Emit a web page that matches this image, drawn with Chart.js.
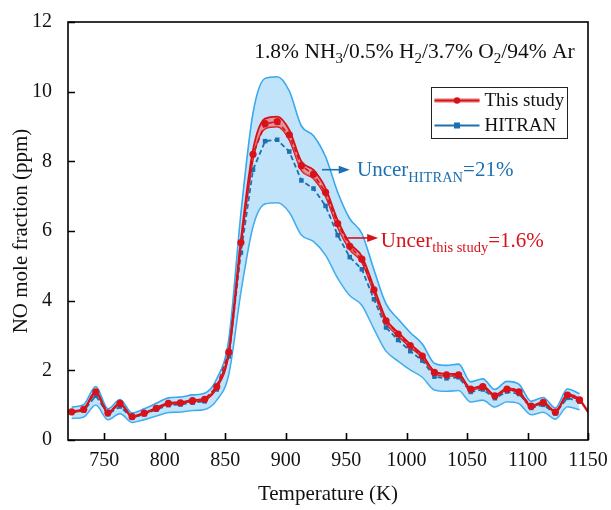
<!DOCTYPE html>
<html>
<head>
<meta charset="utf-8">
<title>NO mole fraction</title>
<script src="https://cdn.jsdelivr.net/npm/chart.js@4.4.1/dist/chart.umd.min.js"></script>
<style>
  html, body { margin: 0; background: #fff; }
  canvas { display: block; }
</style>
</head>
<body>
<canvas id="chart" width="611" height="510"></canvas>
<script>
// measured temperatures (K)
const temps = [723, 733, 743, 753, 763, 773, 783, 793, 803, 813, 823, 833, 843, 853, 863,
  873, 883, 893, 903, 913, 923, 933, 943, 953, 963, 973, 983, 993, 1003, 1013, 1023, 1033,
  1043, 1053, 1063, 1073, 1083, 1093, 1103, 1113, 1123, 1133, 1143];
// NO mole fraction (ppm), this study
const study = [0.81, 0.88, 1.38, 0.78, 1.05, 0.67, 0.77, 0.91, 1.05, 1.07, 1.13, 1.17, 1.53,
  2.52, 5.67, 8.20, 9.08, 9.14, 8.76, 7.87, 7.63, 7.11, 6.21, 5.56, 5.19, 4.31, 3.42, 3.04,
  2.71, 2.41, 1.94, 1.87, 1.87, 1.46, 1.53, 1.27, 1.46, 1.38, 0.97, 1.08, 0.80, 1.29, 1.15];
// NO mole fraction (ppm), HITRAN line data
const hitran = [0.78, 0.84, 1.27, 0.74, 0.96, 0.64, 0.74, 0.87, 1.00, 1.02, 1.07, 1.11, 1.45,
  2.40, 5.38, 7.76, 8.58, 8.62, 8.28, 7.45, 7.22, 6.72, 5.88, 5.25, 4.90, 4.04, 3.23, 2.87,
  2.55, 2.28, 1.82, 1.77, 1.80, 1.38, 1.45, 1.20, 1.39, 1.32, 0.92, 1.01, 0.76, 1.21, 1.10];
// end of the fitted curve for this study at the axis limit
const studyTailT = [1150];
const studyTail = [0.81];
// relative uncertainties
const uStudy = 0.016;
const uHitran = 0.21;

const tempTicks = [750, 800, 850, 900, 950, 1000, 1050, 1100, 1150];
const noTicks = [0, 2, 4, 6, 8, 10, 12];

const FONT = "'Liberation Serif', 'Times New Roman', serif";
const RED = '#d7121a';
const BLUE = '#1c6fb1';
const SKY = '#35a8ef';

const xy = (ts, vs) => ts.map((t, i) => ({ x: t, y: vs[i] }));
const scaled = (vs, f) => vs.map((v) => v * f);

const fitT = temps.concat(studyTailT);
const fitV = study.concat(studyTail);

// text with subscripts: parts = [[text, isSub], ...]
function richText(ctx, parts, x, y, size, subSize, color) {
  ctx.fillStyle = color;
  ctx.textBaseline = 'alphabetic';
  ctx.textAlign = 'left';
  for (const [txt, sub] of parts) {
    ctx.font = `${sub ? subSize : size}px ${FONT}`;
    ctx.fillText(txt, x, sub ? y + size * 0.25 : y);
    x += ctx.measureText(txt).width;
  }
}

function arrow(ctx, x0, x1, y, color) {
  ctx.strokeStyle = color;
  ctx.fillStyle = color;
  ctx.lineWidth = 1.6;
  ctx.beginPath();
  ctx.moveTo(x0, y);
  ctx.lineTo(x1 - 8, y);
  ctx.stroke();
  ctx.beginPath();
  ctx.moveTo(x1, y);
  ctx.lineTo(x1 - 11, y - 4);
  ctx.lineTo(x1 - 11, y + 4);
  ctx.closePath();
  ctx.fill();
}

const decor = {
  id: 'decor',
  afterDraw(chart) {
    const { ctx, chartArea: a, scales: { x, y } } = chart;
    ctx.save();

    // frame with inward ticks
    ctx.strokeStyle = '#000';
    ctx.lineWidth = 1.6;
    ctx.strokeRect(a.left, a.top, a.right - a.left, a.bottom - a.top);
    ctx.beginPath();
    tempTicks.forEach((t) => {
      const px = Math.round(x.getPixelForValue(t)) + 0.5;
      ctx.moveTo(px, a.bottom);
      ctx.lineTo(px, a.bottom - 7);
    });
    noTicks.forEach((v) => {
      const py = Math.round(y.getPixelForValue(v)) + 0.5;
      ctx.moveTo(a.left, py);
      ctx.lineTo(a.left + 7, py);
    });
    ctx.stroke();

    // mixture
    richText(ctx, [['1.8% NH', 0], ['3', 1], ['/0.5% H', 0], ['2', 1], ['/3.7% O', 0], ['2', 1], ['/94% Ar', 0]],
      x.getPixelForValue(874), y.getPixelForValue(10.97), 21.5, 15, '#111');

    // uncertainty labels
    let ay = y.getPixelForValue(7.76);
    arrow(ctx, x.getPixelForValue(930), x.getPixelForValue(953), ay, BLUE);
    richText(ctx, [['Uncer', 0], ['HITRAN', 1], ['=21%', 0]],
      x.getPixelForValue(959), y.getPixelForValue(7.57), 21, 14.5, BLUE);
    ay = y.getPixelForValue(5.80);
    arrow(ctx, x.getPixelForValue(951), x.getPixelForValue(976.5), ay, RED);
    richText(ctx, [['Uncer', 0], ['this study', 1], ['=1.6%', 0]],
      x.getPixelForValue(978.7), y.getPixelForValue(5.55), 21, 14.5, RED);

    // legend
    const lx = 431.5, ly = 87.5, lw = 136, lh = 51;
    ctx.fillStyle = '#fff';
    ctx.fillRect(lx, ly, lw, lh);
    ctx.strokeStyle = '#222';
    ctx.lineWidth = 1;
    ctx.strokeRect(lx, ly, lw, lh);
    const rows = [
      { label: 'This study', color: RED, halo: 'rgba(235,110,110,0.7)', shape: 'circle', yy: ly + 13 },
      { label: 'HITRAN', color: BLUE, halo: null, shape: 'rect', yy: ly + 38 }
    ];
    rows.forEach((r) => {
      if (r.halo) {
        ctx.strokeStyle = r.halo;
        ctx.lineWidth = 4.5;
        ctx.beginPath(); ctx.moveTo(lx + 3, r.yy); ctx.lineTo(lx + 48, r.yy); ctx.stroke();
      }
      ctx.strokeStyle = r.color;
      ctx.lineWidth = 2;
      ctx.beginPath(); ctx.moveTo(lx + 3, r.yy); ctx.lineTo(lx + 48, r.yy); ctx.stroke();
      ctx.fillStyle = r.color;
      const cx = lx + 25.5;
      if (r.shape === 'circle') {
        ctx.beginPath(); ctx.arc(cx, r.yy, 3.2, 0, Math.PI * 2); ctx.fill();
      } else {
        ctx.fillRect(cx - 3, r.yy - 3, 6, 6);
      }
      ctx.fillStyle = '#111';
      ctx.font = `19px ${FONT}`;
      ctx.textBaseline = 'middle';
      ctx.fillText(r.label, lx + 53, r.yy + 1);
    });

    ctx.restore();
  }
};

const band = {
  pointRadius: 0,
  pointHoverRadius: 0,
  cubicInterpolationMode: 'monotone'
};

// keep the plot box fixed: no extra room for edge tick labels
const fixBox = (w, h) => (s) => {
  if (w) s.width = w;
  if (h) s.height = h;
  s.paddingTop = s.paddingBottom = s.paddingLeft = s.paddingRight = 0;
};

new Chart(document.getElementById('chart'), {
  type: 'line',
  data: {
    datasets: [
      // HITRAN ±21 % band
      { ...band, label: 'HITRAN upper', order: 3, data: xy(temps, scaled(hitran, 1 + uHitran)),
        borderColor: SKY, borderWidth: 1.6, backgroundColor: 'rgba(120,196,245,0.45)', fill: '+1' },
      { ...band, label: 'HITRAN lower', order: 3, data: xy(temps, scaled(hitran, 1 - uHitran)),
        borderColor: SKY, borderWidth: 1.6, fill: false },
      // HITRAN points
      { label: 'HITRAN', order: 2, data: xy(temps, hitran), borderColor: BLUE, borderWidth: 1.8,
        borderDash: [5, 3], pointStyle: 'rect', pointRadius: 3.2, pointBackgroundColor: BLUE,
        pointBorderWidth: 0, fill: false, tension: 0 },
      // this study ±1.6 % band
      { ...band, label: 'This study upper', order: 1, data: xy(fitT, scaled(fitV, 1 + uStudy)),
        borderColor: RED, borderWidth: 1.8, backgroundColor: 'rgba(238,110,110,0.65)', fill: '+1' },
      { ...band, label: 'This study lower', order: 1, data: xy(fitT, scaled(fitV, 1 - uStudy)),
        borderColor: RED, borderWidth: 1.8, fill: false },
      // this study points
      { label: 'This study', order: 0, data: xy(temps, study), borderColor: RED, borderWidth: 1.6,
        borderDash: [5, 3], pointStyle: 'circle', pointRadius: 3.6, pointBackgroundColor: RED,
        pointBorderWidth: 0, fill: false, tension: 0 }
    ]
  },
  options: {
    responsive: false,
    animation: false,
    layout: { padding: { top: 22, right: 23, left: 0, bottom: 0 } },
    plugins: { legend: { display: false }, tooltip: { enabled: false } },
    scales: {
      x: {
        type: 'linear', min: 720, max: 1150,
        afterBuildTicks: (s) => { s.ticks = tempTicks.map((v) => ({ value: v })); },
        afterFit: fixBox(0, 70),
        grid: { display: false, drawTicks: false },
        border: { display: false },
        ticks: { color: '#111', padding: 9, maxRotation: 0, font: { family: FONT, size: 20 },
          callback: (v) => String(v) },
        title: { display: true, text: 'Temperature (K)', color: '#111', padding: { top: 0, bottom: 3 },
          font: { family: FONT, size: 21 } }
      },
      y: {
        min: 0, max: 12,
        afterBuildTicks: (s) => { s.ticks = noTicks.map((v) => ({ value: v })); },
        afterFit: fixBox(68, 0),
        grid: { display: false, drawTicks: false },
        border: { display: false },
        ticks: { color: '#111', padding: 16, font: { family: FONT, size: 20 },
          callback: (v) => String(v) },
        title: { display: true, text: 'NO mole fraction (ppm)', color: '#111', padding: { top: 9, bottom: 0 },
          font: { family: FONT, size: 21 } }
      }
    }
  },
  plugins: [decor]
});
</script>
</body>
</html>
